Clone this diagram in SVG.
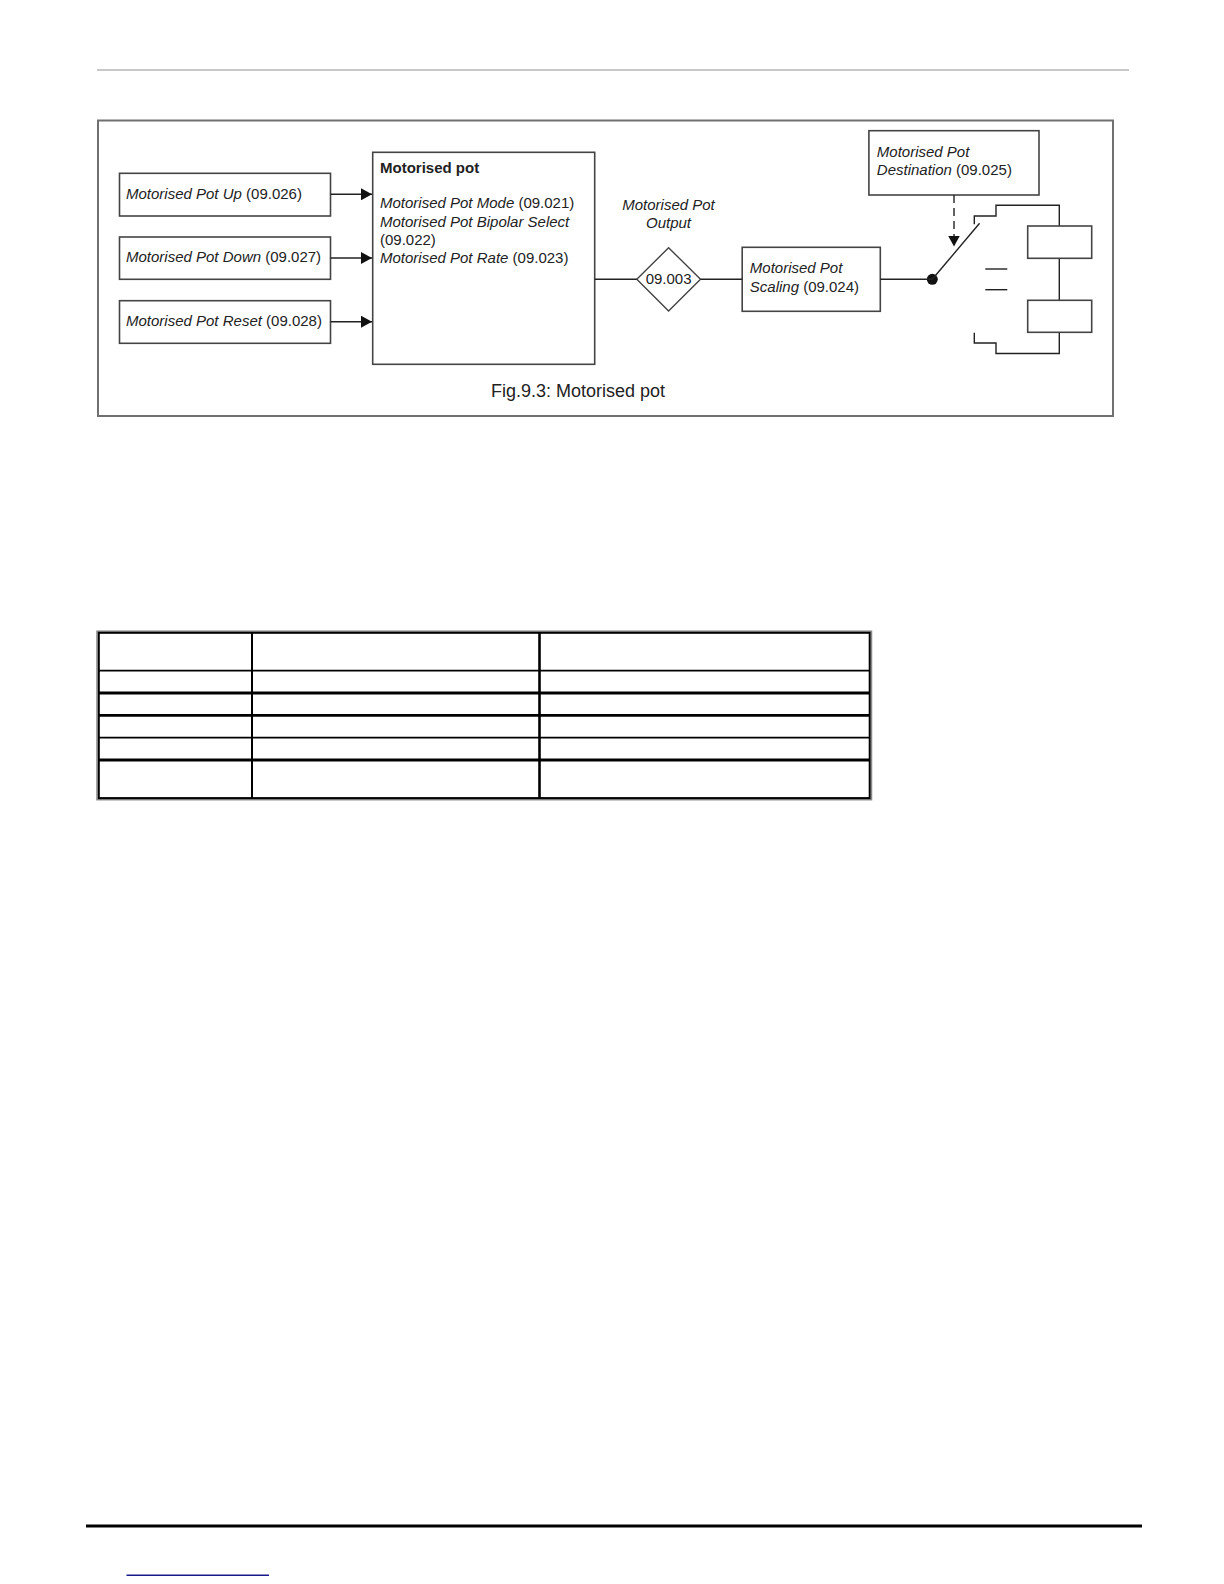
<svg xmlns="http://www.w3.org/2000/svg" width="1224" height="1584" viewBox="0 0 1224 1584">
<style>
text{font-family:"Liberation Sans",Arial,sans-serif;font-size:15px;fill:#222}
.i{font-style:italic}
.box{fill:#fff;stroke:#444;stroke-width:1.6}
.ln{fill:none;stroke:#222;stroke-width:1.4}
.tb{stroke:#000;fill:none}
</style>
<defs>
<marker id="ah" markerUnits="userSpaceOnUse" markerWidth="12" markerHeight="12" refX="11" refY="6" orient="auto">
<path d="M0,0 L11,6 L0,12 z" fill="#111"/>
</marker>
</defs>
<rect width="1224" height="1584" fill="#fff"/>
<line x1="97" y1="70" x2="1129" y2="70" stroke="#c8c8c8" stroke-width="2"/>
<rect x="98" y="120.5" width="1015" height="295.5" fill="none" stroke="#707070" stroke-width="2"/>

<g id="up"><rect class="box" x="119.5" y="173.3" width="211" height="42.7"/><text x="126" y="198.7"><tspan class="i">Motorised Pot Up</tspan> (09.026)</text></g>
<g id="down"><rect class="box" x="119.5" y="237" width="211" height="42.3"/><text x="126" y="262.3"><tspan class="i">Motorised Pot Down</tspan> (09.027)</text></g>
<g id="reset"><rect class="box" x="119.5" y="300.7" width="211" height="42.6"/><text x="126" y="326"><tspan class="i">Motorised Pot Reset</tspan> (09.028)</text></g>

<g id="motpot"><rect class="box" x="372.7" y="152.3" width="222" height="212"/>
<text x="380" y="172.5" font-weight="bold">Motorised pot</text>
<text x="380" y="208.3"><tspan class="i">Motorised Pot Mode</tspan> (09.021)</text>
<text x="380" y="226.7" class="i">Motorised Pot Bipolar Select</text>
<text x="380" y="245">(09.022)</text>
<text x="380" y="262.7"><tspan class="i">Motorised Pot Rate</tspan> (09.023)</text>
</g>

<g id="outlabel"><text x="668.5" y="210" class="i" text-anchor="middle">Motorised Pot</text><text x="668.5" y="228.3" class="i" text-anchor="middle">Output</text></g>
<g id="out"><polygon points="668.6,247.7 700.5,279.3 668.6,311 636.8,279.3" fill="#fff" stroke="#444" stroke-width="1.4"/><text x="668.6" y="284" text-anchor="middle">09.003</text></g>

<g id="scaling"><rect class="box" x="742.2" y="247.3" width="138.1" height="64"/><text x="749.8" y="273.3" class="i">Motorised Pot</text><text x="749.8" y="291.7"><tspan class="i">Scaling</tspan> (09.024)</text></g>

<g id="dest"><rect class="box" x="868.9" y="130.7" width="170.1" height="64.3"/><text x="876.8" y="156.7" class="i">Motorised Pot</text><text x="876.8" y="175"><tspan class="i">Destination</tspan> (09.025)</text></g>

<g id="switch">
<circle cx="932.3" cy="279.3" r="5.5" fill="#111"/>
<line class="ln" x1="932.3" y1="279.3" x2="979.6" y2="223.3"/>
<path class="ln" d="M974.3,224.3 V216 H996 V205.3 H1059.3 V226"/>
<path class="ln" d="M1059.3,258.3 V300.3"/>
<path class="ln" d="M1059.3,332.3 V353.5 H996 V343 H974.3 V332.7"/>
<line class="ln" x1="985.3" y1="269" x2="1007.3" y2="269"/>
<line class="ln" x1="985.3" y1="289.7" x2="1007.3" y2="289.7"/>
<rect class="box" x="1027.7" y="226" width="64" height="32.3"/>
<rect class="box" x="1027.7" y="300.3" width="64" height="32"/>
</g>

<g id="connectors">
<line class="ln" x1="330.5" y1="194.3" x2="372" y2="194.3" marker-end="url(#ah)"/>
<line class="ln" x1="330.5" y1="258" x2="372" y2="258" marker-end="url(#ah)"/>
<line class="ln" x1="330.5" y1="321.7" x2="372" y2="321.7" marker-end="url(#ah)"/>
<line class="ln" x1="594.7" y1="279.3" x2="636.8" y2="279.3"/>
<line class="ln" x1="700.5" y1="279.3" x2="742.2" y2="279.3"/>
<line class="ln" x1="880.3" y1="279.3" x2="932.3" y2="279.3"/>
<line class="ln" x1="954" y1="195" x2="954" y2="246.5" stroke-dasharray="8,5" marker-end="url(#ah)"/>
</g>

<text x="491" y="396.7" style="font-size:18px">Fig.9.3: Motorised pot</text>

<g id="table">
<rect x="97" y="631.2" width="774.5" height="168.5" fill="none" stroke="#888" stroke-width="1.5"/>
<rect x="98.8" y="632.8" width="770.9" height="165.3" class="tb" stroke-width="2"/>
<line class="tb" x1="252" y1="632" x2="252" y2="798" stroke-width="2"/>
<line class="tb" x1="539.5" y1="632" x2="539.5" y2="798" stroke-width="2.6"/>
<line class="tb" x1="98" y1="670.7" x2="870" y2="670.7" stroke-width="1.8"/>
<line class="tb" x1="98" y1="693" x2="870" y2="693" stroke-width="2.8"/>
<line class="tb" x1="98" y1="715.3" x2="870" y2="715.3" stroke-width="2.8"/>
<line class="tb" x1="98" y1="737.7" x2="870" y2="737.7" stroke-width="1.8"/>
<line class="tb" x1="98" y1="760" x2="870" y2="760" stroke-width="2.8"/>
</g>

<line x1="86" y1="1526" x2="1142" y2="1526" stroke="#000" stroke-width="3"/>
<line x1="126.5" y1="1575.3" x2="269" y2="1575.3" stroke="#1a1a8c" stroke-width="1.5"/>
</svg>
